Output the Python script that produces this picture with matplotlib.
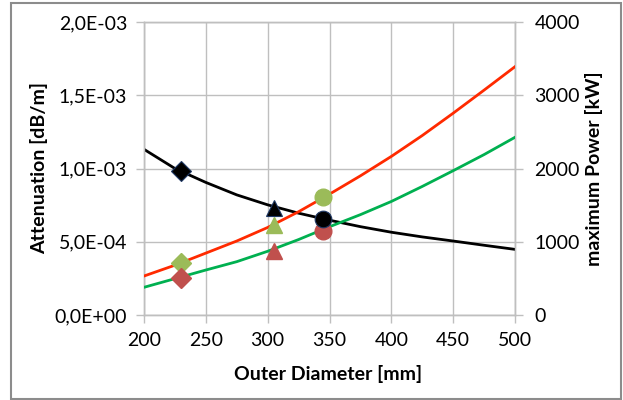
import matplotlib
matplotlib.use("Agg")
import matplotlib.pyplot as plt
from matplotlib.patches import Rectangle
from matplotlib.ticker import FuncFormatter

# Data
diam = [200, 225, 250, 275, 300, 325, 350, 375, 400, 425, 450, 475, 500]
atten = [1.131e-3, 1.0e-3, 0.905e-3, 0.82e-3, 0.752e-3, 0.695e-3, 0.647e-3,
         0.603e-3, 0.565e-3, 0.533e-3, 0.505e-3, 0.476e-3, 0.448e-3]
power_red = [532, 680, 845, 1010, 1195, 1410, 1650, 1900, 2165, 2450, 2755, 3070, 3390]
power_green = [378, 496, 614, 728, 870, 1030, 1205, 1370, 1550, 1755, 1970, 2190, 2426]

mark_x = [230, 305, 345]
mark_atten = [0.983e-3, 0.730e-3, 0.655e-3]
mark_green = [714, 1229, 1615]
mark_red = [509, 874, 1151]
mark_shapes = ["D", "^", "o"]

x_ticks = [200, 250, 300, 350, 400, 450, 500]
left_ticks = [0, 0.5e-3, 1.0e-3, 1.5e-3, 2.0e-3]
right_ticks = [0, 1000, 2000, 3000, 4000]

plt.rcParams['font.family'] = ['Lato', 'DejaVu Sans']

fig = plt.figure(figsize=(6.23, 4.0), dpi=100)
ax = fig.add_axes([144/623, 1-315/400, (515-144)/623, (315-22)/400])
ax2 = ax.twinx()

grid_c = "#BFBFBF"
ax.set_xlim(200, 500)
ax.set_ylim(0, 2.0e-3)
ax2.set_ylim(0, 4000)
ax.set_xticks(x_ticks)
ax.set_yticks(left_ticks)
ax2.set_yticks(right_ticks)
ax.yaxis.set_major_formatter(FuncFormatter(lambda v, p: ("%.1E" % v).replace(".", ",")))
ax.grid(True, color=grid_c, linewidth=1.0)
ax.set_axisbelow(True)
for a in (ax, ax2):
    for s in a.spines.values():
        s.set_color(grid_c)
        s.set_linewidth(1.0)
    a.tick_params(colors=grid_c, labelcolor="black", labelsize=14, length=6, width=1)

ax.plot(diam, atten, color="black", lw=2, zorder=3)
ax2.plot(diam, power_red, color="#FF2A00", lw=2, zorder=3)
ax2.plot(diam, power_green, color="#00B050", lw=2, zorder=3)

for xm, ya, yg, yr, m in zip(mark_x, mark_atten, mark_green, mark_red, mark_shapes):
    ms = 10 if m == "D" else 12
    ax2.plot([xm], [yg], marker=m, color="#9BBB59", ms=ms, mec="#9BBB59", zorder=4, ls="none")
    ax2.plot([xm], [yr], marker=m, color="#C0504D", ms=ms, mec="#C0504D", zorder=4, ls="none")
    ax2.plot([xm], [ya * 2e6], marker=m, color="black", ms=ms, mec="#1F3864", mew=0.8, zorder=5, ls="none")

ax.set_xlabel("Outer Diameter [mm]", fontsize=14, fontweight="bold")
ax.set_ylabel("Attenuation [dB/m]", fontsize=14, fontweight="bold")
ax2.set_ylabel("maximum Power [kW]", fontsize=14, fontweight="bold")
ax.xaxis.set_label_coords(0.497, -0.171)
ax.yaxis.set_label_coords(-0.259, 0.5)
ax2.yaxis.set_label_coords(1.189, 0.5)
ax.tick_params(axis="x", pad=6)
ax.tick_params(axis="y", pad=6)
ax2.tick_params(axis="y", pad=8)

fig.patches.append(Rectangle((11/623, 1-399/400), (621-11)/623, (399-3)/400,
                             transform=fig.transFigure, fill=False,
                             edgecolor="#8C8C8C", linewidth=1.5))

fig.savefig("out.png", dpi=100)
